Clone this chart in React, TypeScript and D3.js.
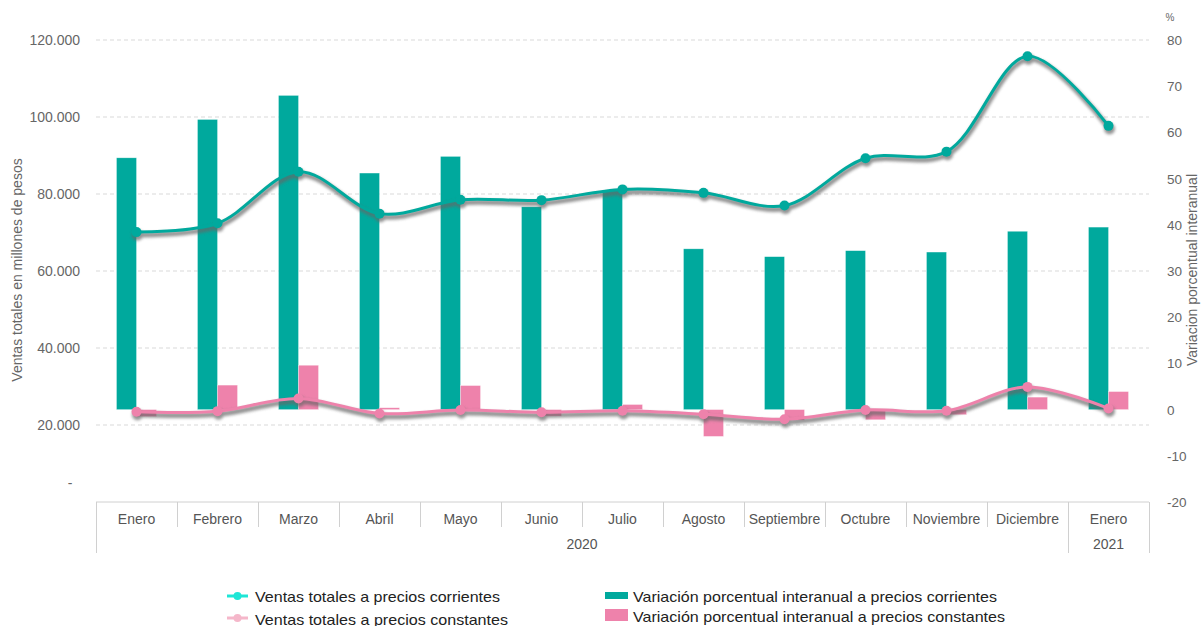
import React from "react";
import * as d3 from "d3";

const months = ["Enero","Febrero","Marzo","Abril","Mayo","Junio","Julio","Agosto","Septiembre","Octubre","Noviembre","Diciembre","Enero"];
const yearGroups = [{ label: "2020", from: 0, to: 12 }, { label: "2021", from: 12, to: 13 }];
const ventasCorrientes = [70100, 72400, 85800, 74900, 78500, 78400, 81200, 80300, 77000, 89300, 91000, 115800, 97700];
const ventasConstantes = [23450, 23600, 26900, 23000, 23900, 23300, 23700, 22800, 21500, 23900, 23700, 29900, 24300];
const varCorrientes = [54.5, 62.8, 68.0, 51.2, 54.8, 43.9, 47.5, 34.8, 33.1, 34.4, 34.1, 38.6, 39.5];
const varConstantes = [-1.5, 5.3, 9.6, 0.4, 5.2, -1.4, 1.1, -5.8, -2.3, -2.2, -1.1, 2.7, 3.9];
const leftTicks = [0, 20000, 40000, 60000, 80000, 100000, 120000];
const rightTicks = [-20, -10, 0, 10, 20, 30, 40, 50, 60, 70, 80];

const TEAL = "#00a99d";
const PINK = "#ee82ab";
const FONT = "'Liberation Sans', Arial, sans-serif";

export default function App() {
  const x = d3.scaleBand<number>().domain(d3.range(months.length)).range([96, 1149]).padding(0);
  const cx = (i: number) => (x(i) as number) + x.bandwidth() / 2;
  const yL = d3.scaleLinear().domain([0, 120000]).range([502, 40]);
  const yR = d3.scaleLinear().domain([-20, 80]).range([502, 40]);
  const bw = 20;
  const fmt = (v: number) => (v === 0 ? "-" : d3.format(",")(v).replace(/,/g, "."));

  const mk = (data: number[]) =>
    d3.line<number>().x((_, i) => cx(i)).y((d) => yL(d)).curve(d3.curveCatmullRom.alpha(0.5))(data) as string;

  const series = [
    { path: mk(ventasCorrientes), data: ventasCorrientes, color: TEAL },
    { path: mk(ventasConstantes), data: ventasConstantes, color: PINK },
  ];

  return (
    <svg width={1201} height={626} style={{ position: "absolute", left: 0, top: 0, background: "#fff" }} fontFamily={FONT}>
      <defs>
        <filter id="blur" x="-5%" y="-50%" width="110%" height="200%">
          <feGaussianBlur stdDeviation="1.6" />
        </filter>
      </defs>
      {leftTicks.filter((t) => t > 0).map((t) => (
        <line key={t} x1={96} x2={1149} y1={yL(t)} y2={yL(t)} stroke="#d9d9d9" strokeDasharray="4,3" />
      ))}
      {leftTicks.map((t) =>
        t === 0 ? (
          <text key={t} x={70} y={488} textAnchor="middle" fontSize={14} fill="#666">{fmt(t)}</text>
        ) : (
          <text key={t} x={80} y={yL(t) + 5} textAnchor="end" fontSize={14} fill="#666">{fmt(t)}</text>
        )
      )}
      {rightTicks.map((t) => (
        <text key={t} x={1167} y={yR(t) + 5} textAnchor="start" fontSize={13.5} fill="#666">{t}</text>
      ))}
      <text x={1170} y={21} textAnchor="middle" fontSize={10} fill="#666">%</text>
      <text transform="translate(22,270) rotate(-90)" textAnchor="middle" fontSize={14} fill="#666">Ventas totales en millones de pesos</text>
      <text transform="translate(1197,270) rotate(-90)" textAnchor="middle" fontSize={14} fill="#666">Variacion porcentual interanual</text>

      <line x1={96} x2={1149} y1={502} y2={502} stroke="#d0d0d0" />
      {d3.range(months.length + 1).map((i) => {
        const xx = i < months.length ? (x(i) as number) : 1149;
        const full = yearGroups.some((g) => g.from === i) || i === months.length;
        return <line key={i} x1={xx + 0.5} x2={xx + 0.5} y1={502} y2={full ? 553 : 527} stroke="#d0d0d0" />;
      })}
      {months.map((m, i) => (
        <text key={i} x={cx(i)} y={524} textAnchor="middle" fontSize={14} fill="#555">{m}</text>
      ))}
      {yearGroups.map((g) => (
        <text key={g.label} x={((x(g.from) as number) + (g.to < months.length ? (x(g.to) as number) : 1149)) / 2} y={549} textAnchor="middle" fontSize={14} fill="#555">{g.label}</text>
      ))}

      {varCorrientes.map((v, i) => (
        <rect key={"c" + i} x={cx(i) - bw} width={bw} y={Math.min(yR(v), yR(0))} height={Math.abs(yR(v) - yR(0))} fill={TEAL} stroke="#fff" strokeOpacity={0.5} strokeWidth={0.6} />
      ))}
      {varConstantes.map((v, i) => (
        <rect key={"k" + i} x={cx(i)} width={bw} y={Math.min(yR(v), yR(0))} height={Math.abs(yR(v) - yR(0))} fill={PINK} stroke="#fff" strokeOpacity={0.5} strokeWidth={0.6} />
      ))}

      {series.map((s, si) => (
        <g key={si}>
          <g transform="translate(1,3)" filter="url(#blur)" opacity={0.7}>
            <path d={s.path} fill="none" stroke="#666" strokeWidth={5} />
            {s.data.map((d, i) => (
              <circle key={i} cx={cx(i)} cy={yL(d)} r={5.5} fill="#666" />
            ))}
          </g>
          <path d={s.path} fill="none" stroke={s.color} strokeWidth={3} />
          {s.data.map((d, i) => (
            <circle key={i} cx={cx(i)} cy={yL(d)} r={5} fill={s.color} />
          ))}
        </g>
      ))}

      <g>
        <line x1={227} x2={248} y1={596} y2={596} stroke="#1ee6d6" strokeWidth={3} />
        <circle cx={237.5} cy={596} r={4} fill="#1ee6d6" />
        <text x={255} y={602} fontSize={15} fill="#222" textLength={245} lengthAdjust="spacingAndGlyphs">Ventas totales a precios corrientes</text>
        <line x1={227} x2={248} y1={618} y2={618} stroke="#f5b7ca" strokeWidth={3} />
        <circle cx={237.5} cy={618} r={4} fill="#f5b7ca" />
        <text x={255} y={625} fontSize={15} fill="#222" textLength={253} lengthAdjust="spacingAndGlyphs">Ventas totales a precios constantes</text>
        <rect x={605} y={592} width={23} height={7} fill={TEAL} />
        <text x={633} y={602} fontSize={15} fill="#222" textLength={364} lengthAdjust="spacingAndGlyphs">Variación porcentual interanual a precios corrientes</text>
        <rect x={605} y={609} width={23} height={12} fill={PINK} />
        <text x={633} y={622} fontSize={15} fill="#222" textLength={372} lengthAdjust="spacingAndGlyphs">Variación porcentual interanual a precios constantes</text>
      </g>
    </svg>
  );
}
